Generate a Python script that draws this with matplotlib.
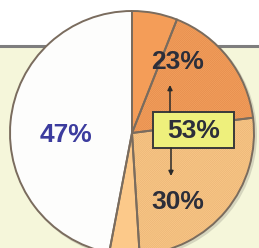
import matplotlib.pyplot as plt
from matplotlib.patches import Rectangle, Circle

plt.rcParams['hatch.linewidth'] = 0.6
plt.rcParams['font.family'] = ['Liberation Sans', 'DejaVu Sans']

# wedge shares (%), clockwise from 12 o'clock
wedge_names = ['dark plain', 'dark hatched', 'light hatched', 'light plain', 'rest']
wedge_sizes = [6, 17, 26, 4, 47]
wedge_colors = ['#f49d58', '#f5a260', '#fcc98a', '#fcc98a', '#fdfdfc']
hatch_colors = ['#f49d58', '#e68f4e', '#ecb878', '#fcc98a', '#fdfdfc']
wedge_hatch = [None, '/' * 16, '/' * 16, None, None]

# labels
label_rest = '47%'
label_top = '23%'
label_total = '53%'
label_bottom = '30%'

W, H = 259, 248
fig = plt.figure(figsize=(W / 100, H / 100), dpi=100)
ax = fig.add_axes([0, 0, 1, 1])

# pale panel behind the pie
ax.add_patch(Rectangle((-5, -5), W + 10, 207, facecolor='#f5f6da',
                       edgecolor='none', zorder=0))
ax.plot([0, W], [202, 202], color='#7e7e7e', lw=2.2, zorder=1)

cx, cy, r = 132, 115, 122
ax.add_patch(Circle((cx + 2, cy - 2), r + 1, color='#9a9a8a', alpha=0.35,
                    lw=0, zorder=1))

# fills + hatching
wedges, _ = ax.pie(wedge_sizes, colors=wedge_colors, startangle=90,
                   counterclock=False, center=(cx, cy), radius=r,
                   wedgeprops=dict(linewidth=0), frame=True)
for w, hc, h in zip(wedges, hatch_colors, wedge_hatch):
    w.set_edgecolor(hc)
    w.set_zorder(2)
    if h:
        w.set_hatch(h)

# outlines
outl, _ = ax.pie(wedge_sizes, startangle=90, counterclock=False,
                 center=(cx, cy), radius=r, frame=True,
                 wedgeprops=dict(facecolor='none', edgecolor='#7a6c5e',
                                 linewidth=1.4))
for w in outl:
    w.set_zorder(3)
ax.set_xlim(0, W)
ax.set_ylim(0, H)
ax.set_aspect('equal')
ax.axis('off')

fs = 19
ax.text(66, 113, label_rest, color='#3c3c9e', fontsize=fs, fontweight='bold',
        ha='center', va='center', zorder=5)
ax.text(178, 186, label_top, color='#2c2e3a', fontsize=fs, fontweight='bold',
        ha='center', va='center', zorder=5)
ax.text(178, 46, label_bottom, color='#2c2e3a', fontsize=fs, fontweight='bold',
        ha='center', va='center', zorder=5)

# boxed total with arrows
ax.add_patch(Rectangle((153, 100), 81, 36, facecolor='#eef07c',
                       edgecolor='#3a3a3a', lw=1.4, zorder=4))
ax.text(193.5, 117, label_total, color='#2c2e3a', fontsize=fs, fontweight='bold',
        ha='center', va='center', zorder=5)
arrow = dict(arrowstyle='-|>', color='#2a2a2a', lw=1.1, mutation_scale=7,
             shrinkA=0, shrinkB=0)
ax.annotate('', xy=(170, 163), xytext=(170, 136), arrowprops=arrow, zorder=5)
ax.annotate('', xy=(171, 72), xytext=(171, 100), arrowprops=arrow, zorder=5)

fig.savefig('out.png', dpi=100)
